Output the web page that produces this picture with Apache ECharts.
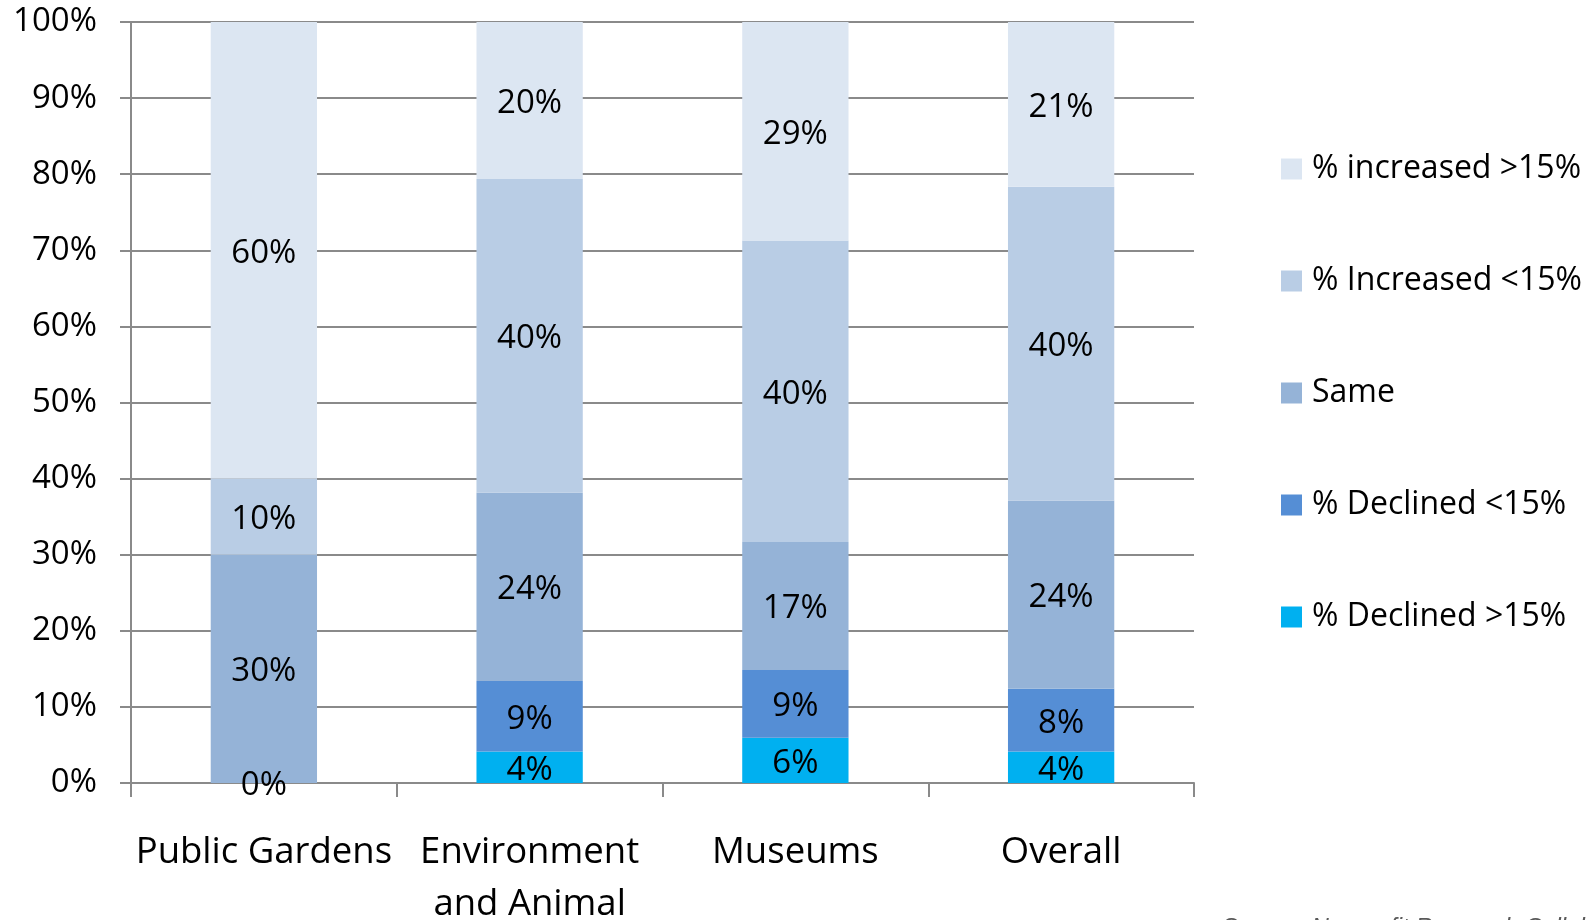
<!DOCTYPE html>
<html>
<head>
<meta charset="utf-8">
<script src="https://cdn.jsdelivr.net/npm/echarts@6/dist/echarts.min.js"></script>
<style>
  html, body { margin: 0; padding: 0; background: #ffffff; }
  #chart { width: 1595px; height: 920px; }
</style>
</head>
<body>
<div id="chart"></div>
<script>
// Change in contributions by sector (responses in percent, 100% stacked)
const categories = ['Public Gardens', 'Environment\nand Animal', 'Museums', 'Overall'];

const declinedOver15  = [0, 4, 6, 4];
const declinedUnder15 = [null, 9, 9, 8];
const same            = [30, 24, 17, 24];
const increasedUnder15 = [10, 40, 40, 40];
const increasedOver15  = [60, 20, 29, 21];

const yTickLabels = ['0%', '10%', '20%', '30%', '40%', '50%', '60%', '70%', '80%', '90%', '100%'];

const seriesDefs = [
  { name: '% Declined >15%',  values: declinedOver15,   color: '#00B0F0' },
  { name: '% Declined <15%',  values: declinedUnder15,  color: '#558ED5' },
  { name: 'Same',             values: same,             color: '#95B3D7' },
  { name: '% Increased <15%', values: increasedUnder15, color: '#B9CDE5' },
  { name: '% increased >15%', values: increasedOver15,  color: '#DCE6F2' }
];

// Each column is scaled so its segments fill 100%; labels keep the reported values.
const totals = categories.map((_, i) =>
  seriesDefs.reduce((s, d) => s + (d.values[i] == null ? 0 : d.values[i]), 0));

const FONT = '"Open Sans", "Liberation Sans", sans-serif';

const series = seriesDefs.map(d => ({
  name: d.name,
  type: 'bar',
  stack: 'total',
  barWidth: '40%',
  itemStyle: { color: d.color },
  label: {
    show: true,
    position: 'inside',
    offset: [0, 3],
    color: '#000000',
    fontFamily: FONT,
    fontSize: 33,
    formatter: p => d.values[p.dataIndex] + '%'
  },
  data: d.values.map((v, i) => v == null ? null : v / totals[i] * 100)
}));

const chart = echarts.init(document.getElementById('chart'), null, { renderer: 'canvas' });
chart.setOption({
  animation: false,
  backgroundColor: '#ffffff',
  grid: { left: 131, right: 401, top: 22, bottom: 137, containLabel: false, outerBoundsMode: 'none' },
  legend: {
    orient: 'vertical',
    left: 1276,
    top: 144,
    itemWidth: 21,
    itemHeight: 21,
    itemGap: 72,
    icon: 'rect',
    data: ['% increased >15%', '% Increased <15%', 'Same', '% Declined <15%', '% Declined >15%'],
    textStyle: { fontFamily: FONT, fontSize: 32, color: '#000000', lineHeight: 40, padding: [0, 0, 0, 5] }
  },
  xAxis: {
    type: 'category',
    data: categories,
    axisLine: { show: true, lineStyle: { color: '#8a8a8a', width: 2 } },
    axisTick: { show: true, length: 14, lineStyle: { color: '#8a8a8a', width: 2 } },
    axisLabel: { fontFamily: FONT, fontSize: 36.5, color: '#000000', lineHeight: 52, margin: 44, interval: 0 }
  },
  yAxis: {
    type: 'value',
    min: 0,
    max: 100,
    interval: 10,
    axisLine: { show: true, lineStyle: { color: '#8a8a8a', width: 2 } },
    axisTick: { show: true, length: 11, lineStyle: { color: '#8a8a8a', width: 2 } },
    splitLine: { show: true, lineStyle: { color: '#8a8a8a', width: 2 } },
    axisLabel: {
      fontFamily: FONT, fontSize: 33, color: '#000000', margin: 34,
      padding: [9, 0, 0, 0],
      formatter: (v) => yTickLabels[Math.round(v / 10)]
    }
  },
  graphic: [{
    type: 'text',
    left: 1222,
    top: 916,
    style: {
      text: 'Source: Nonprofit Research Collaborative',
      fontFamily: '"Liberation Sans", Arial, sans-serif',
      fontStyle: 'italic',
      fontSize: 24,
      fill: '#595959'
    }
  }],
  series: series
});
</script>
</body>
</html>
